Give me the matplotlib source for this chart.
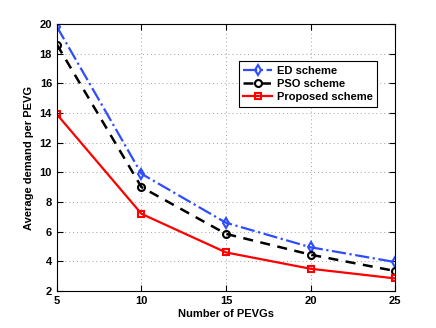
import matplotlib.pyplot as plt

plt.rcParams['font.family'] = ['Liberation Sans', 'DejaVu Sans']
plt.rcParams['font.weight'] = 'bold'

pevgs = [5, 10, 15, 20, 25]
ed_scheme = [19.8, 9.9, 6.6, 4.95, 3.95]
pso_scheme = [18.6, 9.0, 5.85, 4.45, 3.35]
proposed_scheme = [13.9, 7.2, 4.6, 3.5, 2.85]

fig = plt.figure(figsize=(4.36, 3.28), dpi=100)
ax = fig.add_axes([0.1307, 0.1128, 0.7753, 0.8142])

ax.plot(pevgs, ed_scheme, '-.', color='#2f4dff', lw=1.6, marker='d',
        ms=5.5, mfc='none', mew=1.5, label='ED scheme')
ax.plot(pevgs, pso_scheme, '--', color='black', lw=1.8, marker='o',
        ms=5, mfc='none', mew=1.5, label='PSO scheme', dashes=(4, 3))
ax.plot(pevgs, proposed_scheme, '-', color='red', lw=1.6, marker='s',
        ms=4.5, mfc='none', mew=1.5, label='Proposed scheme')

ax.set_xlim(5, 25)
ax.set_ylim(2, 20)
ax.set_xticks([5, 10, 15, 20, 25])
ax.set_yticks(range(2, 21, 2))
ax.tick_params(direction='in', labelsize=8, length=4, top=True, right=True)
ax.grid(True, linestyle=(0, (1, 3)), color='#a0a0a0', lw=0.7)
for s in ax.spines.values():
    s.set_linewidth(0.8)

ax.set_xlabel('Number of PEVGs', fontsize=8, fontweight='bold', labelpad=2)
ax.set_ylabel('Average demand per PEVG', fontsize=8, fontweight='bold', labelpad=4)

leg = ax.legend(loc='upper right', bbox_to_anchor=(0.947, 0.861), fontsize=8,
                fancybox=False, edgecolor='black', framealpha=1,
                borderaxespad=0, handlelength=2.6, handletextpad=0.4,
                borderpad=0.4, labelspacing=0.3)
leg.get_frame().set_linewidth(0.8)

fig.savefig('out.png', dpi=100)
